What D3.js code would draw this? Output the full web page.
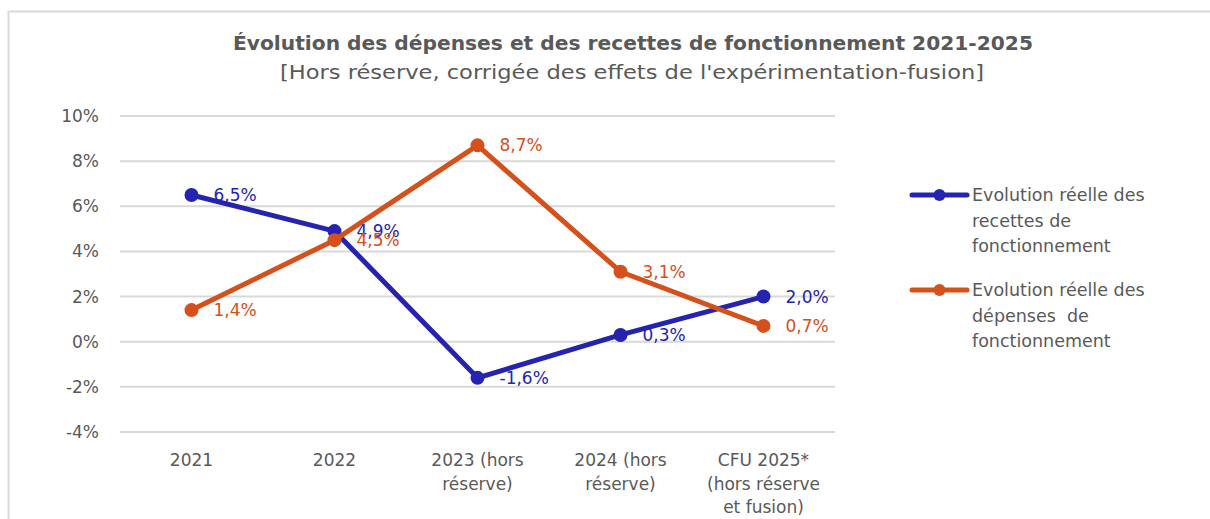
<!DOCTYPE html>
<html>
<head>
<meta charset="utf-8">
<script src="https://cdn.jsdelivr.net/npm/d3@7"></script>
<style>
  body { margin: 0; background: #fff; }
  text { font-family: "DejaVu Sans", sans-serif; }
</style>
</head>
<body>
<div id="chart"></div>
<script>
// chart data
var categories = [["2021"], ["2022"], ["2023 (hors", "réserve)"], ["2024 (hors", "réserve)"], ["CFU 2025*", "(hors réserve", "et fusion)"]];
var recettes = [6.5, 4.9, -1.6, 0.3, 2.0];
var depenses = [1.4, 4.5, 8.7, 3.1, 0.7];
var yTicks = [-4, -2, 0, 2, 4, 6, 8, 10];
var seriesNames = [
  ["Evolution réelle des", "recettes de", "fonctionnement"],
  ["Evolution réelle des", "dépenses  de", "fonctionnement"]
];
var colors = ["#2424B0", "#D5501A"];

var svgWidth = 1210;
var svgHeight = 519;

var margin = { top: 116, left: 120, right: 375, bottom: 87 };
var chartWidth = svgWidth - margin.left - margin.right;
var chartHeight = svgHeight - margin.top - margin.bottom;

var svg = d3.select("#chart")
  .append("svg")
  .attr("width", svgWidth)
  .attr("height", svgHeight);

// outer frame
svg.append("rect")
  .attr("x", 8.5)
  .attr("y", 11.5)
  .attr("width", 1300)
  .attr("height", 600)
  .attr("fill", "none")
  .attr("stroke", "#d9d9d9")
  .attr("stroke-width", 2);

// titles
svg.append("text")
  .attr("x", 633)
  .attr("y", 50)
  .attr("text-anchor", "middle")
  .attr("font-size", 19)
  .attr("font-weight", "bold")
  .attr("fill", "#595959")
  .attr("textLength", 800)
  .attr("lengthAdjust", "spacingAndGlyphs")
  .text("Évolution des dépenses et des recettes de fonctionnement 2021-2025");

svg.append("text")
  .attr("x", 632)
  .attr("y", 79)
  .attr("text-anchor", "middle")
  .attr("font-size", 19)
  .attr("fill", "#595959")
  .attr("textLength", 704)
  .attr("lengthAdjust", "spacingAndGlyphs")
  .text("[Hors réserve, corrigée des effets de l'expérimentation-fusion]");

var chartGroup = svg.append("g")
  .attr("transform", `translate(${margin.left}, ${margin.top})`);

var xScale = d3.scalePoint()
  .domain(d3.range(categories.length))
  .range([0, chartWidth])
  .padding(0.5);

var yScale = d3.scaleLinear()
  .domain([-4, 10])
  .range([chartHeight, 0]);

// gridlines
chartGroup.append("g")
  .selectAll("line")
  .data(yTicks)
  .enter()
  .append("line")
  .attr("x1", 0)
  .attr("x2", chartWidth)
  .attr("y1", d => yScale(d))
  .attr("y2", d => yScale(d))
  .attr("stroke", "#d9d9d9")
  .attr("stroke-width", 2);

// y axis labels
var leftAxis = d3.axisLeft(yScale)
  .tickValues(yTicks)
  .tickSize(0)
  .tickPadding(21)
  .tickFormat(d => d + "%");

var yAxis = chartGroup.append("g").call(leftAxis);
yAxis.select(".domain").remove();
yAxis.selectAll("text")
  .attr("font-size", 17)
  .attr("fill", "#595959")
  .attr("font-family", "DejaVu Sans, sans-serif");

// x axis labels (multi-line)
var xLabels = chartGroup.append("g")
  .selectAll("text")
  .data(categories)
  .enter()
  .append("text")
  .attr("x", (d, i) => xScale(i))
  .attr("y", chartHeight + 34)
  .attr("text-anchor", "middle")
  .attr("font-size", 17)
  .attr("fill", "#595959");

xLabels.each(function(lines, i) {
  d3.select(this).selectAll("tspan")
    .data(lines)
    .enter()
    .append("tspan")
    .attr("x", xScale(i))
    .attr("dy", (d, j) => j === 0 ? 0 : 23.5)
    .text(d => d);
});

var line = d3.line()
  .x((d, i) => xScale(i))
  .y(d => yScale(d));

var allSeries = [recettes, depenses];

allSeries.forEach((values, s) => {
  chartGroup.append("path")
    .datum(values)
    .attr("d", line)
    .attr("fill", "none")
    .attr("stroke", colors[s])
    .attr("stroke-width", 5)
    .attr("stroke-linejoin", "round");

  chartGroup.append("g")
    .selectAll("circle")
    .data(values)
    .enter()
    .append("circle")
    .attr("cx", (d, i) => xScale(i))
    .attr("cy", d => yScale(d))
    .attr("r", 7)
    .attr("fill", colors[s]);
});

// data labels (French decimal comma, plain hyphen for negatives)
var fmt = d => d.toFixed(1).replace(".", ",") + "%";

allSeries.forEach((values, s) => {
  chartGroup.append("g")
    .selectAll("text")
    .data(values)
    .enter()
    .append("text")
    .attr("x", (d, i) => xScale(i) + 22)
    .attr("y", d => yScale(d))
    .attr("dy", "0.36em")
    .attr("font-size", 17)
    .attr("fill", colors[s])
    .text(fmt);
});

// legend
var legend = svg.append("g")
  .attr("transform", "translate(912, 195)");

seriesNames.forEach((lines, s) => {
  var g = legend.append("g")
    .attr("transform", `translate(0, ${s * 95})`);
  g.append("line")
    .attr("x1", 0)
    .attr("x2", 55)
    .attr("y1", 0)
    .attr("y2", 0)
    .attr("stroke", colors[s])
    .attr("stroke-width", 5)
    .attr("stroke-linecap", "round");
  g.append("circle")
    .attr("cx", 27.5)
    .attr("cy", 0)
    .attr("r", 6)
    .attr("fill", colors[s]);
  g.append("text")
    .attr("x", 60)
    .attr("y", 0)
    .attr("font-size", 17.5)
    .attr("fill", "#595959")
    .style("white-space", "pre")
    .selectAll("tspan")
    .data(lines)
    .enter()
    .append("tspan")
    .attr("x", 60)
    .attr("dy", (d, j) => j === 0 ? "0.36em" : 25.5)
    .text(d => d);
});
</script>
</body>
</html>
